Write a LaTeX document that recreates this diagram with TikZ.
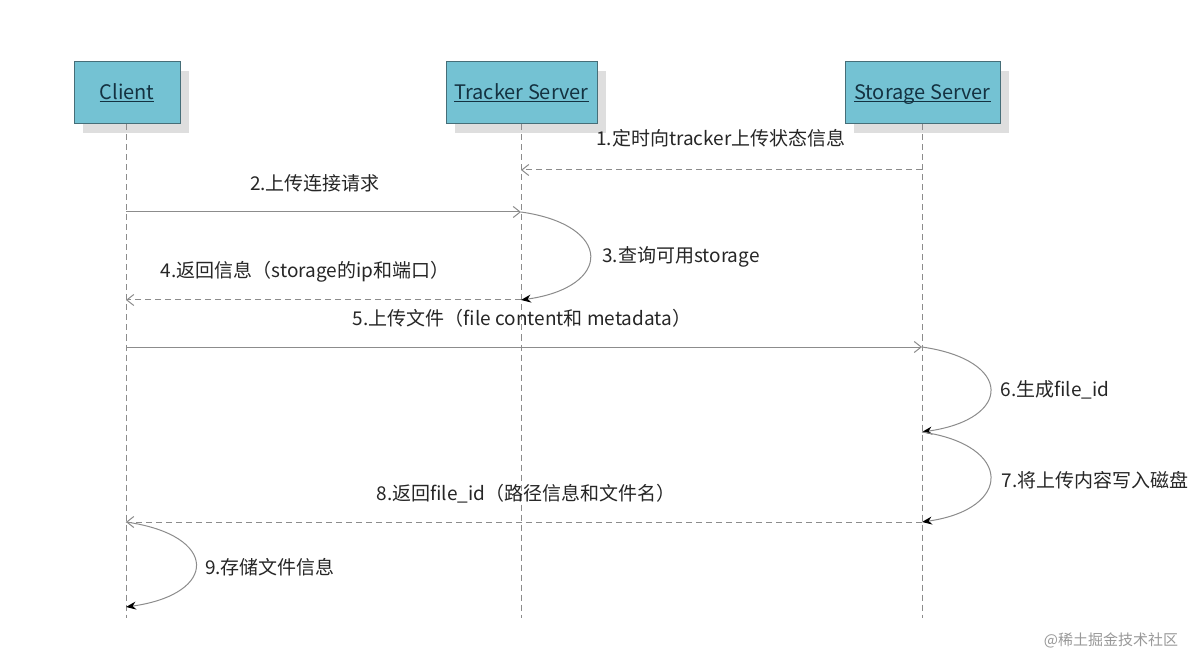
\documentclass[tikz,border=0pt]{standalone}
\usepackage{fontspec}
\setmainfont{Noto Sans CJK SC}
\usetikzlibrary{arrows.meta,shadows}
\definecolor{boxfill}{RGB}{116,194,211}
\definecolor{boxline}{RGB}{70,110,120}
\definecolor{boxtext}{RGB}{20,50,65}
\definecolor{lineg}{RGB}{140,140,140}
\newcommand{\ulbl}[1]{\underline{\smash{#1}}}
\tikzset{
  actor/.style={draw=boxline, line width=1pt, fill=boxfill, minimum height=62pt,
    inner sep=0pt, text height=14pt, text depth=0pt, font=\fontsize{20}{23}\selectfont, text=boxtext,
    drop shadow={shadow xshift=9pt, shadow yshift=-9pt, fill=black!13, opacity=1}},
  lifeline/.style={draw=lineg, dashed, line width=0.8pt, dash pattern=on 6pt off 4pt},
  msg/.style={draw=lineg, line width=1pt, -{Straight Barb[length=7pt,width=11pt]}},
  rmsg/.style={msg, dash pattern=on 6pt off 4pt},
  selfloop/.style={draw=lineg, line width=1pt, -{Stealth[length=10pt,width=8pt,black]}},
  lbl/.style={font=\fontsize{19}{22}\selectfont, text=black!85, inner sep=1pt},
}
\begin{document}
\begin{tikzpicture}[x=1pt,y=-1pt]
\useasboundingbox (0,0) rectangle (1202,660);
\fill[white] (0,0) rectangle (1202,660);
% actors
\node[actor, minimum width=106pt] (client) at (127,93) {\ulbl{Client}};
\node[actor, minimum width=151pt] (tracker) at (521.5,93) {\ulbl{Tracker Server}};
\node[actor, minimum width=155pt] (storage) at (922.5,93) {\ulbl{Storage Server}};
% lifeline ends
\coordinate (cE) at (126,618);
\coordinate (tE) at (521,618);
\coordinate (sE) at (922,618);
\draw[lifeline] (client.south -| cE) -- (cE);
\draw[lifeline] (tracker.south -| tE) -- (tE);
\draw[lifeline] (storage.south -| sE) -- (sE);
% message points
\coordinate (s1) at (922,170); \coordinate (t1) at (521,170);
\coordinate (c2) at (126,212); \coordinate (t2) at (521,212);
\coordinate (t3) at (521,300); \coordinate (c4) at (126,300);
\coordinate (c5) at (126,347); \coordinate (s5) at (922,347);
\coordinate (s6) at (922,432);
\coordinate (s7) at (922,522); \coordinate (c8) at (126,522);
\coordinate (c9) at (126,607);
% messages
\draw[rmsg] (s1) -- (t1);
\node[lbl] (l1) at (721,138) {1.定时向tracker上传状态信息};
\draw[msg] (c2) -- (t2);
\node[lbl] (l2) at (315,183) {2.上传连接请求};
\draw[selfloop] (t2) .. controls (613,225) and (613,287) .. (t3);
\node[lbl] (l3) at (681,257) {3.查询可用storage};
\draw[rmsg] (t3) -- (c4);
\node[lbl] (l4) at (305,272) {4.返回信息（storage的ip和端口）};
\draw[msg] (c5) -- (s5);
\node[lbl] (l5) at (522,318) {5.上传文件（file content和 metadata）};
\draw[selfloop] (s5) .. controls (1013,360) and (1013,419) .. (s6);
\node[lbl] (l6) at (1055,390) {6.生成file\_id};
\draw[selfloop] (s6) .. controls (1013,445) and (1013,509) .. (s7);
\node[lbl] (l7) at (1095,480) {7.将上传内容写入磁盘};
\draw[rmsg] (s7) -- (c8);
\node[lbl] (l8) at (526,494) {8.返回file\_id（路径信息和文件名）};
\draw[selfloop] (c8) .. controls (219,535) and (219,594) .. (c9);
\node[lbl] (l9) at (270,567) {9.存储文件信息};
% watermark
\node[font=\fontsize{15}{18}\selectfont, text=black!40, inner sep=0pt] (wm) at (1111,640) {@稀土掘金技术社区};
\end{tikzpicture}
\end{document}
